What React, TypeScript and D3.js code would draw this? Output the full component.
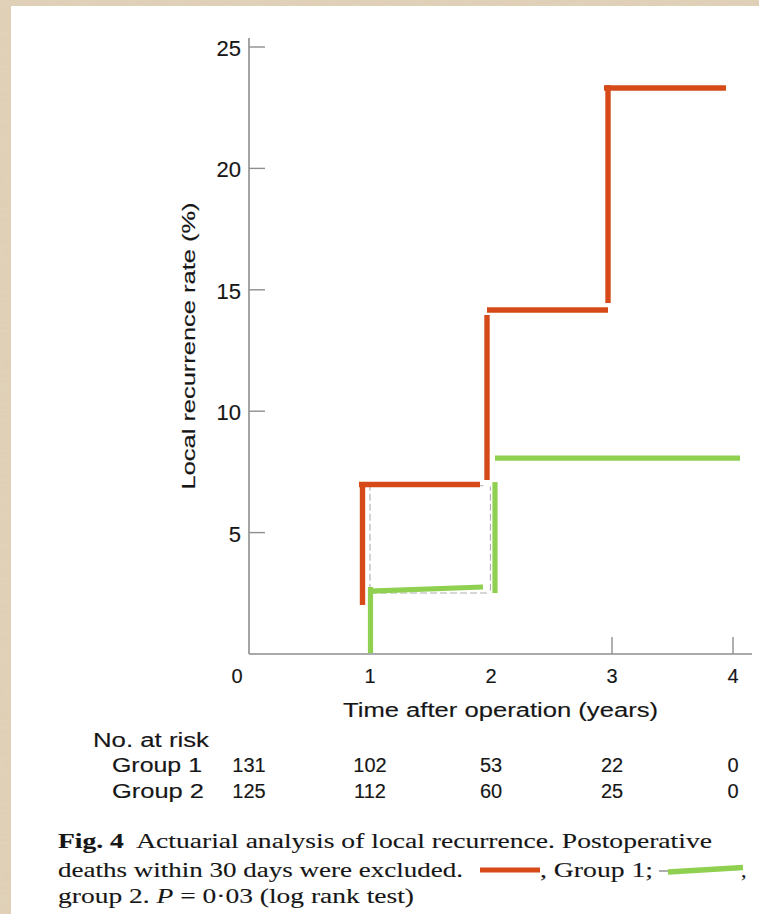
import React from 'react';
import * as d3 from 'd3';

// ---- data ----
const yTickValues = [5, 10, 15, 20, 25];
const xTickLabelValues = [0, 1, 2, 3, 4];
const xTickMarkValues = [3, 4];
const riskTimes = [0, 1, 2, 3, 4];
const group1AtRisk = [131, 102, 53, 22, 0];
const group2AtRisk = [125, 112, 60, 25, 0];
const riskRowLabels = ['Group 1', 'Group 2'];

// coloured step overlays, segments [x1, y1, x2, y2] in (years, %)
const group1Segments = [
  [0.938, 2.02, 0.938, 7.08],
  [0.909, 6.98, 1.909, 6.98],
  [1.967, 7.17, 1.967, 13.96],
  [1.967, 14.17, 2.967, 14.17],
  [2.967, 14.46, 2.967, 23.43],
  [2.934, 23.31, 3.942, 23.31],
];
const group2Segments = [
  [1.004, 0.04, 1.004, 2.76],
  [1.0, 2.59, 1.934, 2.76],
  [2.033, 2.51, 2.033, 7.08],
  [2.033, 8.07, 4.058, 8.07],
];
// faint grey original printed curve, visible beside the overlays
const originalSegments = [
  [1.0, 2.6, 1.0, 6.9],
  [1.0, 2.51, 1.99, 2.51],
  [1.995, 2.6, 1.995, 6.9],
  [0.97, 6.93, 1.95, 6.93],
];

const RED = '#D64A1A';
const GREEN = '#8FD050';
const AXIS = '#8e8e8e';
const INK = '#161616';
const SANS = '"Liberation Sans", Arial, Helvetica, sans-serif';
const SERIF = '"Liberation Serif", "Times New Roman", serif';

const sansStyle = { fontFamily: SANS, fill: INK, stroke: INK, strokeWidth: 0.15 } as const;
const serifStyle = { fontFamily: SERIF, fill: INK, stroke: INK, strokeWidth: 0.12 } as const;

export default function App() {
  const W = 759;
  const H = 914;
  const x = d3.scaleLinear().domain([0, 4]).range([249, 733]);
  const y = d3.scaleLinear().domain([0, 25]).range([654, 47]);
  const seg = (s: number[]) =>
    d3.line()([
      [x(s[0]), y(s[1])],
      [x(s[2]), y(s[3])],
    ]) as string;

  const x0 = x(0);
  const y0 = y(0);

  return (
    <div style={{ position: 'absolute', left: 0, top: 0 }}>
      <svg width={W} height={H} style={{ display: 'block' }}>
        <defs>
          <filter id="paper" x="0" y="0" width="100%" height="100%">
            <feTurbulence type="fractalNoise" baseFrequency="0.08 0.5" numOctaves="2" seed="3" result="n" />
            <feColorMatrix
              in="n"
              type="matrix"
              values="0 0 0 0 0.80  0 0 0 0 0.74  0 0 0 0 0.63  0 0 0 0.35 0"
            />
          </filter>
        </defs>
        <rect x={0} y={0} width={W} height={H} fill="#DECDB2" />
        <rect x={0} y={0} width={W} height={H} filter="url(#paper)" />
        <rect x={11} y={6} width={W - 11} height={H - 6} fill="#ffffff" />

        {/* axes */}
        <line x1={x0} x2={x0} y1={38} y2={y0} stroke={AXIS} strokeWidth={1.6} />
        <line x1={x0} x2={752} y1={y0} y2={y0} stroke={AXIS} strokeWidth={1.6} />
        {yTickValues.map((v) => (
          <g key={'yt' + v}>
            <line x1={x0} x2={x0 + 16} y1={y(v)} y2={y(v)} stroke={AXIS} strokeWidth={1.4} />
            <text x={241} y={y(v) + 9} textAnchor="end" fontSize={22} {...sansStyle}>
              {v}
            </text>
          </g>
        ))}
        {xTickMarkValues.map((v) => (
          <line key={'xm' + v} x1={x(v)} x2={x(v)} y1={y0} y2={y0 - 17} stroke={AXIS} strokeWidth={1.4} />
        ))}
        {xTickLabelValues.map((v) => (
          <text
            key={'xl' + v}
            x={v === 0 ? x(v) - 12 : x(v)}
            y={683}
            textAnchor="middle"
            fontSize={20}
            {...sansStyle}
          >
            {v}
          </text>
        ))}

        {/* axis titles */}
        <text x={343} y={717} textLength={315} lengthAdjust="spacingAndGlyphs" fontSize={20} {...sansStyle}>
          Time after operation (years)
        </text>
        <text
          transform="translate(195,346) rotate(-90)"
          x={-143.5}
          y={0}
          textLength={287}
          lengthAdjust="spacingAndGlyphs"
          fontSize={18}
          {...sansStyle}
        >
          Local recurrence rate (%)
        </text>

        {/* original grey curve */}
        {originalSegments.map((s, i) => (
          <path key={'o' + i} d={seg(s)} stroke="#b0b0b0" strokeWidth={1.1} strokeDasharray="7 3" fill="none" />
        ))}

        {/* coloured overlays */}
        {group2Segments.map((s, i) => (
          <path key={'g2' + i} d={seg(s)} stroke={GREEN} strokeWidth={5.2} fill="none" />
        ))}
        {group1Segments.map((s, i) => (
          <path key={'g1' + i} d={seg(s)} stroke={RED} strokeWidth={5.4} fill="none" />
        ))}

        {/* number at risk */}
        <text x={93} y={747} textLength={116} lengthAdjust="spacingAndGlyphs" fontSize={20} {...sansStyle}>
          No. at risk
        </text>
        {[group1AtRisk, group2AtRisk].map((row, ri) => (
          <g key={'r' + ri}>
            <text
              x={112}
              y={772 + ri * 26}
              textLength={ri === 0 ? 90 : 92}
              lengthAdjust="spacingAndGlyphs"
              fontSize={20}
              {...sansStyle}
            >
              {riskRowLabels[ri]}
            </text>
            {row.map((n, i) => (
              <text key={i} x={x(riskTimes[i])} y={772 + ri * 26} textAnchor="middle" fontSize={20} {...sansStyle}>
                {n}
              </text>
            ))}
          </g>
        ))}

        {/* caption */}
        <text x={58} y={848} textLength={654} lengthAdjust="spacingAndGlyphs" fontSize={22} {...serifStyle}>
          <tspan fontWeight="bold">Fig. 4</tspan>
          <tspan>{'\u00a0 Actuarial analysis of local recurrence. Postoperative'}</tspan>
        </text>
        <text x={58} y={877} textLength={405} lengthAdjust="spacingAndGlyphs" fontSize={22} {...serifStyle}>
          deaths within 30 days were excluded.
        </text>
        <line x1={480} x2={540} y1={870} y2={870} stroke={RED} strokeWidth={5} />
        <text x={540} y={877} textLength={113} lengthAdjust="spacingAndGlyphs" fontSize={22} {...serifStyle}>
          , Group 1;
        </text>
        <line x1={659} x2={670} y1={871} y2={871} stroke="#777" strokeWidth={1.2} />
        <line x1={668} x2={743} y1={872} y2={867.5} stroke={GREEN} strokeWidth={5.5} />
        <text x={741} y={877} fontSize={22} {...serifStyle}>
          ,
        </text>
        <text x={58} y={903} textLength={356} lengthAdjust="spacingAndGlyphs" fontSize={22} {...serifStyle}>
          <tspan>group 2. </tspan>
          <tspan fontStyle="italic">P</tspan>
          <tspan>{' = 0\u00b703 (log rank test)'}</tspan>
        </text>
      </svg>
    </div>
  );
}
